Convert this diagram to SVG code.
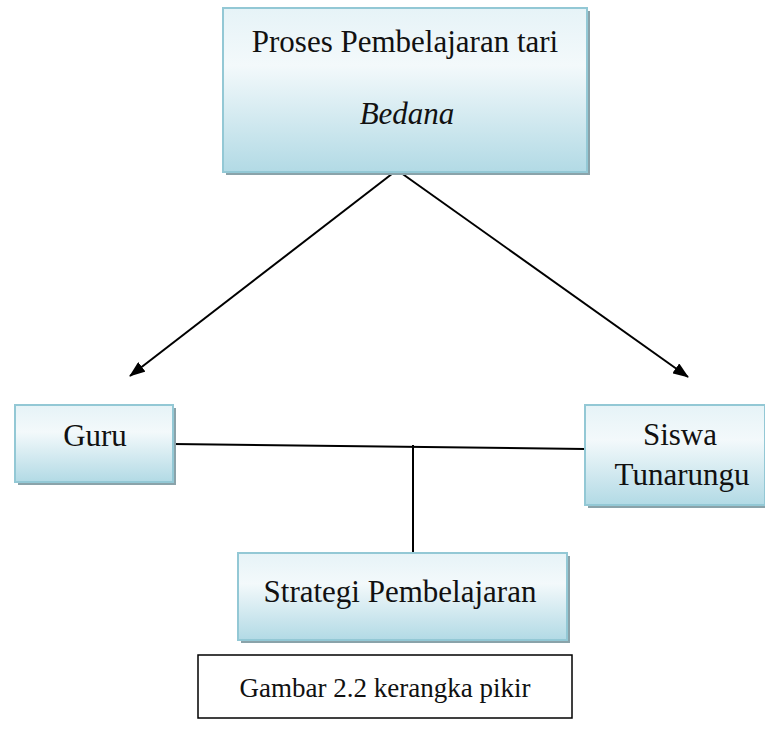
<svg xmlns="http://www.w3.org/2000/svg" width="765" height="745" viewBox="0 0 765 745">
<defs>
<linearGradient id="g" x1="0" y1="0" x2="0" y2="1">
<stop offset="0" stop-color="#e6f3f7"/>
<stop offset="0.35" stop-color="#f3f9fb"/>
<stop offset="1" stop-color="#b2dae5"/>
</linearGradient>
<marker id="ah" viewBox="0 0 16 12" refX="15" refY="6" markerWidth="16" markerHeight="12" markerUnits="userSpaceOnUse" orient="auto">
<path d="M0,0 L16,6 L0,12 Z" fill="#000"/>
</marker>
<style>
.box{fill:url(#g);stroke:#93c8d5;stroke-width:2}
.sh{fill:#8aa3aa}
.t{font-family:"Liberation Serif","Times New Roman",serif;font-size:31px;fill:#111;text-anchor:middle}
.ln{stroke:#000;stroke-width:2;fill:none}
</style>
</defs>
<rect width="765" height="745" fill="#fff"/>
<g id="connectors">
<line class="ln" x1="397" y1="170" x2="130" y2="376" marker-end="url(#ah)"/>
<line class="ln" x1="397" y1="170" x2="688" y2="377" marker-end="url(#ah)"/>
<line class="ln" x1="173" y1="444" x2="585" y2="449"/>
<line class="ln" x1="413" y1="445" x2="413" y2="553"/>
</g>
<g id="proses">
<rect class="sh" x="226" y="11" width="364" height="164"/>
<rect class="box" x="223" y="8" width="364" height="164"/>
<text class="t" x="405" y="52">Proses Pembelajaran tari</text>
<text class="t" x="407" y="124" font-style="italic">Bedana</text>
</g>
<g id="guru">
<rect class="sh" x="18" y="408" width="158" height="77"/>
<rect class="box" x="15" y="405" width="158" height="77"/>
<text class="t" x="95" y="446">Guru</text>
</g>
<g id="siswa">
<rect class="sh" x="588" y="408" width="180" height="100"/>
<rect class="box" x="585" y="405" width="180" height="100"/>
<text class="t" x="680" y="445">Siswa</text>
<text class="t" x="682" y="485">Tunarungu</text>
</g>
<g id="strategi">
<rect class="sh" x="241" y="556" width="329" height="87"/>
<rect class="box" x="238" y="553" width="329" height="87"/>
<text class="t" x="400" y="602">Strategi Pembelajaran</text>
</g>
<g id="caption">
<rect x="198" y="655" width="374" height="63" fill="#fff" stroke="#000" stroke-width="1.5"/>
<text class="t" x="385" y="697" font-size="27" style="font-size:27px">Gambar 2.2 kerangka pikir</text>
</g>
</svg>
